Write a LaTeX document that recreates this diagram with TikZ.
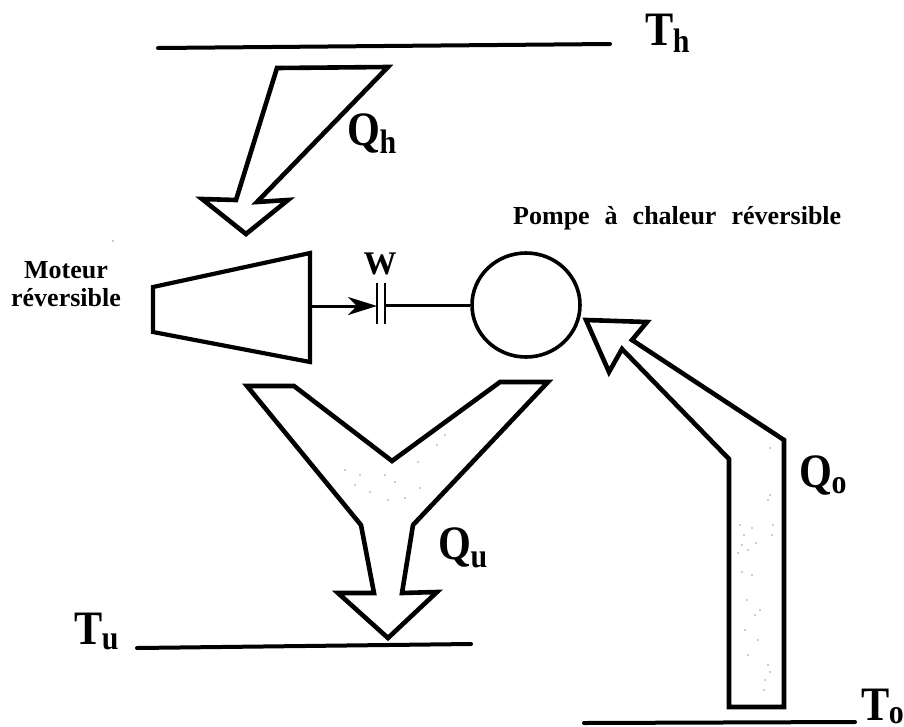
\documentclass[tikz,border=0pt]{standalone}
\usepackage{fontspec}
\usepackage{graphicx}
\setmainfont{Liberation Serif}
\usetikzlibrary{arrows.meta,shapes.geometric}
\newcommand{\bigsym}[3][5pt]{\scalebox{.88}[1]{\fontsize{48}{48}\selectfont\bfseries #2\kern-0.5pt\lower#1\hbox{\fontsize{34}{34}\selectfont #3}}}
\tikzset{
  bar/.style={line width=4pt,line cap=round},
  flow/.style={draw,line width=4.6pt,line join=miter,miter limit=6},
  flowlab/.style={inner sep=0pt,anchor=base west},
  small/.style={font=\fontsize{26}{28}\selectfont\bfseries,inner sep=0pt,align=center},
  speck/.style={fill=black!40,draw=none}
}
\begin{document}
\begin{tikzpicture}[x=1pt,y=-1pt]
\useasboundingbox (0,0) rectangle (904,726);
% reservoir lines
\coordinate (thL) at (158,48); \coordinate (thR) at (610,44);
\coordinate (tuL) at (137,648); \coordinate (tuR) at (471,644);
\coordinate (toL) at (584,723); \coordinate (toR) at (855,722);
\draw[bar] (thL) -- (thR);
\draw[bar] (tuL) -- (tuR);
\draw[bar] (toL) -- (toR);
% temperature labels
\node[flowlab] (Th) at (645,45) {\bigsym[7pt]{T}{h}};
\node[flowlab] (Tu) at (74,644) {\bigsym{T}{u}};
\node[flowlab] (To) at (861,720) {\bigsym[3pt]{T}{o}};
% heat flows
\draw[flow] (277,68) -- (388,67) -- (257,202) -- (288,200) -- (246,234) -- (202,199) -- (236,200) -- cycle;
\draw[flow] (247,386) -- (294,386) -- (392,461) -- (500,382) -- (548,382) -- (413,525) -- (402,593) -- (437,592) -- (388,638) -- (338,593) -- (374,593) -- (361,525) -- cycle;
\draw[flow] (586,320) -- (647,322) -- (632,340) -- (784,440) -- (784,707) -- (729,707) -- (729,459) -- (622,349) -- (609,372) -- cycle;
\node[flowlab] (Qh) at (347,145) {\bigsym[8pt]{Q}{h}};
\node[flowlab] (Qu) at (438,559) {\bigsym[8pt]{Q}{u}};
\node[flowlab] (Qo) at (799,487) {\bigsym[6pt]{Q}{o}};
% engine
\draw[line width=4.2pt,line join=miter] (153,287) -- (310,253) -- (310,362) -- (153,332) -- cycle;
\coordinate (engine) at (310,306);
\node[small] (moteur) at (66,284) {Moteur\\réversible};
% pump
\node[draw,ellipse,line width=3.6pt,minimum width=108pt,minimum height=104pt,inner sep=0pt] (pump) at (526,305) {};
\node[small,anchor=base west] (pompe) at (513,224) {\spaceskip=15pt\relax Pompe à chaleur réversible};
% coupling
\coordinate (capA) at (377,306); \coordinate (capB) at (385,305);
\draw[line width=2.6pt] (377,283) -- (377,324);
\draw[line width=2.6pt] (385,283) -- (385,324);
\draw[line width=3pt,-{Stealth[length=29pt,width=18pt,inset=9pt]}] (engine) -- (capA);
\draw[line width=3pt] (capB) -- (pump.west);
\node[small,font=\fontsize{33}{33}\selectfont\bfseries] (w) at (380,264) {W};
% stippling of the scan
\foreach \p/\q in {345/470,355/485,360/475,370/492,385/475,395/482,388/500,405/498,418/462,420/488,437/445,445/435,
 740/525,742/545,744/535,748/550,752/528,756/543,738/553,742/572,752/575,747/600,755/615,745/630,760/610,748/655,758/640,768/665,765/680,770/672,764/690,768/500,770/495,773/525,772/535,770/448,113/241}
  \fill[speck] (\p,\q) circle (0.8pt);
\end{tikzpicture}
\end{document}
